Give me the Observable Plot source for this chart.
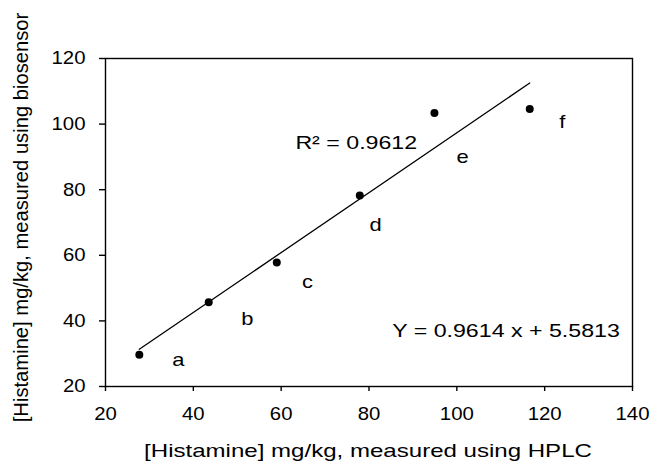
<!DOCTYPE html>
<html><head><meta charset="utf-8">
<script src="https://cdn.jsdelivr.net/npm/d3@7"></script>
<script src="https://cdn.jsdelivr.net/npm/@observablehq/plot@0.6"></script>
<style>
body{margin:0;background:#fff;}
svg{font-family:"Liberation Sans",Arial,sans-serif;}
</style>
</head><body>
<div id="chart"></div>
<script>
const samples = ["a","b","c","d","e","f"];
const hplc = [27.7, 43.5, 59.0, 77.9, 94.9, 116.6];
const biosensor = [29.7, 45.7, 57.8, 78.2, 103.4, 104.6];
const labelX = [36.6, 52.3, 66.0, 81.5, 101.3, 124.0];
const labelY = [28.0, 40.7, 52.0, 69.4, 89.9, 100.8];
const xTicks = [20, 40, 60, 80, 100, 120, 140];
const yTicks = [20, 40, 60, 80, 100, 120];
const annotations = [
  {x: 77.1, y: 94.4, text: "R² = 0.9612"},
  {x: 111.2, y: 37, text: "Y = 0.9614 x + 5.5813"}
];

const pts = samples.map((s, i) => ({s, x: hplc[i], y: biosensor[i], lx: labelX[i], ly: labelY[i]}));

const chart = Plot.plot({
  width: 656, height: 462,
  marginLeft: 105, marginRight: 24, marginTop: 58, marginBottom: 76,
  style: {color: "#000", fontFamily: "'Liberation Sans', Arial, sans-serif", background: "#fff"},
  x: {domain: [20, 140]},
  y: {domain: [20, 120]},
  marks: [
    Plot.frame({stroke: "#000", strokeWidth: 1.4}),
    Plot.axisX({ticks: xTicks, tickSize: 5, tickPadding: 15, fontSize: 18.5, label: "[Histamine] mg/kg, measured using HPLC", labelAnchor: "center", labelArrow: "none", labelOffset: 70, strokeWidth: 1.4}),
    Plot.axisY({ticks: yTicks, tickSize: 6, tickPadding: 14, fontSize: 18.5, label: "[Histamine] mg/kg, measured using biosensor", labelAnchor: "center", labelArrow: "none", labelOffset: 92, strokeWidth: 1.4}),
    Plot.linearRegressionY(pts, {x: "x", y: "y", ci: 0, stroke: "#000", strokeWidth: 1.3}),
    Plot.dot(pts, {x: "x", y: "y", r: 4, fill: "#000"}),
    Plot.text(pts, {x: "lx", y: "ly", text: "s", fontSize: 19, className: "stretch-lbl"}),
    Plot.text(annotations, {x: "x", y: "y", text: "text", fontSize: 19, className: "stretch-ann"})
  ]
});
document.getElementById("chart").appendChild(chart);

function stretch(nodes, f) {
  nodes.forEach(t => {
    const w = t.getComputedTextLength();
    t.setAttribute("textLength", (w * f).toFixed(1));
    t.setAttribute("lengthAdjust", "spacingAndGlyphs");
  });
}
const xlg = chart.querySelector('[aria-label="x-axis label"]');
const ylg = chart.querySelector('[aria-label="y-axis label"]');
const xl = chart.querySelectorAll('[aria-label="x-axis label"] text');
xl.forEach(t => t.setAttribute("font-size", 18.5));
const yl = chart.querySelectorAll('[aria-label="y-axis label"] text');
yl.forEach(t => t.setAttribute("font-size", 20.2));
if (ylg) ylg.setAttribute("transform", ((ylg.getAttribute("transform") || "") + " translate(0,-5)").trim());
if (xlg) xlg.setAttribute("transform", ((xlg.getAttribute("transform") || "") + " translate(-1,0.5)").trim());
stretch(chart.querySelectorAll('[aria-label="y-axis tick label"] text'), 1.1);
stretch(chart.querySelectorAll('[aria-label="x-axis tick label"] text'), 1.1);
stretch(xl, 1.3);
stretch(chart.querySelectorAll('.stretch-lbl text'), 1.15);
stretch(chart.querySelectorAll('.stretch-ann text'), 1.22);
</script>
</body></html>
